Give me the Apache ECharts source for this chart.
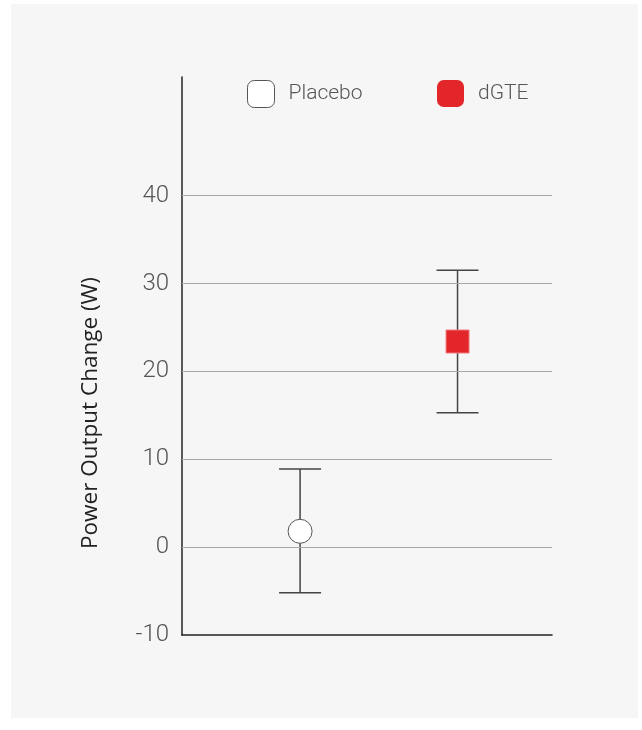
<!DOCTYPE html>
<html>
<head>
<meta charset="utf-8">
<script src="https://cdn.jsdelivr.net/npm/echarts@6/dist/echarts.min.js"></script>
<style>
  html, body { margin: 0; padding: 0; background: #ffffff; }
  #panel { position: absolute; left: 11px; top: 4px; width: 627px; height: 714px; background: #f6f6f6; }
  #chart { position: absolute; left: 0; top: 0; width: 642px; height: 730px; }
</style>
</head>
<body>
<div id="panel"></div>
<div id="chart"></div>
<script>
// ---- data ----
const categories = ['Placebo', 'dGTE'];
const means = [1.8, 23.4];
const upperErr = [8.9, 31.5];
const lowerErr = [-5.2, 15.3];
const yTicks = [-10, 0, 10, 20, 30, 40];
const gridValues = [0, 10, 20, 30, 40];
const axisTitle = 'Power Output Change (W)';

// ---- styles ----
const colors = { Placebo: '#ffffff', dGTE: '#e3262a' };
const borders = { Placebo: '#555555', dGTE: '#f07a7c' };
const labelFont = 'Roboto';

const chart = echarts.init(document.getElementById('chart'), null, { renderer: 'canvas' });

const markerSeries = categories.map((c, i) => ({
  name: c,
  type: 'scatter',
  z: 5,
  symbol: c === 'Placebo' ? 'circle' : 'rect',
  symbolSize: c === 'Placebo' ? 24 : 23,
  itemStyle: { color: colors[c], borderColor: borders[c], borderWidth: 1, opacity: 1 },
  emphasis: { disabled: true },
  data: [[i + 1, means[i]]]
}));

const option = {
  backgroundColor: 'transparent',
  animation: false,
  grid: { left: 182, right: 90, top: 77, bottom: 95, outerBoundsMode: 'none', containLabel: false },
  xAxis: {
    type: 'value', min: 0.25, max: 2.6,
    axisLine: { show: true, onZero: false, lineStyle: { color: '#222', width: 1.5 } },
    axisTick: { show: false }, axisLabel: { show: false }, splitLine: { show: false }
  },
  yAxis: {
    type: 'value', min: -10, max: 53.5, interval: 10,
    axisLine: { show: true, lineStyle: { color: '#222', width: 1.5 } },
    axisTick: { show: false },
    splitLine: { show: false },
    axisLabel: {
      margin: 13, color: '#555', fontFamily: labelFont, fontWeight: 300, fontSize: 24,
      showMaxLabel: false,
      formatter: v => yTicks.includes(v) ? String(v) : ''
    }
  },
  legend: [
    {
      left: 242, top: 75, itemWidth: 27, itemHeight: 27, selectedMode: false,
      textStyle: { color: '#555', fontFamily: labelFont, fontWeight: 300, fontSize: 21, padding: [0, 0, 0, 9] },
      data: [{ name: 'Placebo', icon: 'roundRect', itemStyle: { color: '#fff', borderColor: '#555', borderWidth: 1 } }]
    },
    {
      left: 432, top: 75, itemWidth: 27, itemHeight: 27, selectedMode: false,
      textStyle: { color: '#555', fontFamily: labelFont, fontWeight: 300, fontSize: 21, padding: [0, 0, 0, 9] },
      data: [{ name: 'dGTE', icon: 'roundRect', itemStyle: { color: '#e3262a', borderColor: '#e3262a', borderWidth: 0 } }]
    }
  ],
  graphic: [{
    type: 'text', x: 91, y: 413, rotation: Math.PI / 2,
    style: {
      text: axisTitle, fill: '#222', font: '400 22.5px "Open Sans"',
      textAlign: 'center', textVerticalAlign: 'middle'
    }
  }],
  series: [
    {
      name: 'grid', type: 'scatter', data: [], z: 1, silent: true,
      markLine: {
        silent: true, symbol: ['none', 'none'], label: { show: false },
        lineStyle: { color: '#a8a8a8', width: 1, type: 'solid' },
        emphasis: { disabled: true },
        data: gridValues.map(v => ({ yAxis: v }))
      }
    },
    {
      name: 'errors', type: 'custom', z: 3, silent: true,
      data: categories.map((c, i) => [i + 1, lowerErr[i], upperErr[i]]),
      renderItem: function (params, api) {
        const x = api.value(0);
        const lo = api.coord([x, api.value(1)]);
        const hi = api.coord([x, api.value(2)]);
        const hw = 21;
        const st = { stroke: '#444', lineWidth: 1.5 };
        return {
          type: 'group',
          children: [
            { type: 'line', shape: { x1: lo[0], y1: lo[1], x2: hi[0], y2: hi[1] }, style: st },
            { type: 'line', shape: { x1: lo[0] - hw, y1: lo[1], x2: lo[0] + hw, y2: lo[1] }, style: st },
            { type: 'line', shape: { x1: hi[0] - hw, y1: hi[1], x2: hi[0] + hw, y2: hi[1] }, style: st }
          ]
        };
      }
    }
  ].concat(markerSeries)
};
chart.setOption(option);
</script>
</body>
</html>
